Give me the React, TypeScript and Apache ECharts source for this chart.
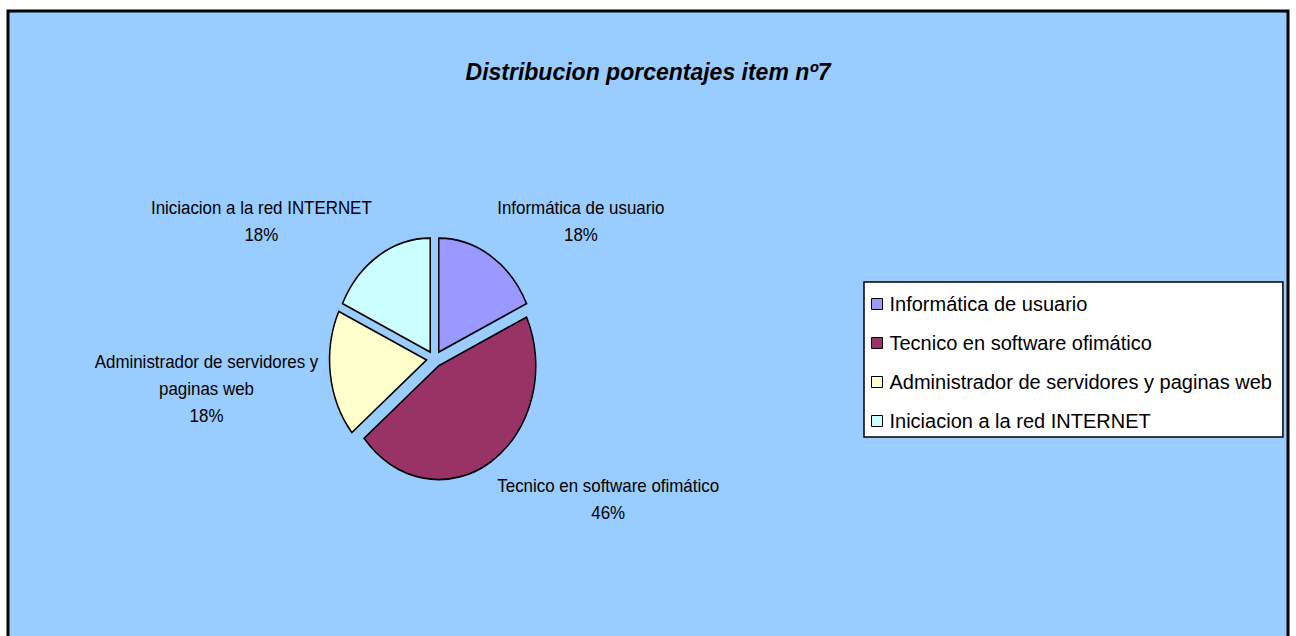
import React, { useEffect, useRef } from "react";
import * as echarts from "echarts";

const titleText = "Distribucion porcentajes item nº7";
const categories = [
  "Informática de usuario",
  "Tecnico en software ofimático",
  "Administrador de servidores y paginas web",
  "Iniciacion a la red INTERNET",
];
const labelNames = [
  "Informática de usuario",
  "Tecnico en software ofimático",
  "Administrador de servidores y\npaginas web",
  "Iniciacion a la red INTERNET",
];
const values = [18, 46, 18, 18];
const colors = ["#9999FF", "#993366", "#FFFFCC", "#CCFFFF"];

const FONT = "'Liberation Sans', Arial, sans-serif";
const CX = 434.5;
const CY = 359;
const RX = 97;
const RY = 114;
const EXPLODE = 8;
const GAP_X = 20;
const GAP_Y = 24;
const LABEL_SIZE = 18;
const LABEL_SCALE_X = 0.94;
const LABEL_LH = 27;

function measure(text: string, size: number): number {
  try {
    const c = document.createElement("canvas");
    const ctx = c.getContext("2d");
    if (ctx) {
      ctx.font = `${size}px ${FONT}`;
      return ctx.measureText(text).width;
    }
  } catch (e) {
    /* ignore */
  }
  return text.length * size * 0.5;
}

export default function App() {
  const ref = useRef<HTMLDivElement>(null);

  useEffect(() => {
    if (!ref.current) return;
    const chart = echarts.init(ref.current, undefined, { renderer: "svg" });
    const total = values.reduce((s, v) => s + v, 0);

    const makeRenderItem = (i: number) => (params: any, api: any) => {
      const before = values.slice(0, i).reduce((s, v) => s + v, 0);
      const a0 = -Math.PI / 2 + (before / total) * 2 * Math.PI;
      const a1 = -Math.PI / 2 + ((before + values[i]) / total) * 2 * Math.PI;
      const mid = (a0 + a1) / 2;
      const cos = Math.cos(mid);
      const sin = Math.sin(mid);
      const cx = CX + EXPLODE * cos;
      const cy = CY + EXPLODE * sin;
      const pct = Math.round((values[i] / total) * 100) + "%";
      const text = labelNames[i] + "\n" + pct;
      const lines = text.split("\n");
      const w = Math.max(...lines.map((l) => measure(l, LABEL_SIZE))) * LABEL_SCALE_X;
      const h = lines.length * LABEL_LH;
      const px = CX + (RX + GAP_X) * cos;
      const py = CY + (RY + GAP_Y) * sin;
      const tx = px + (cos >= 0 ? 1 : -1) * (w / 2);
      const ty = py + sin * (h / 2) + 8 * (1 - Math.abs(sin));
      return {
        type: "group",
        children: [
          {
            type: "sector",
            shape: { cx, cy, r0: 0, r: RX, startAngle: a0, endAngle: a1, clockwise: true },
            originX: cx,
            originY: cy,
            scaleY: RY / RX,
            style: { fill: colors[i], stroke: "#000", lineWidth: 1.5, strokeNoScale: true },
          },
          {
            type: "text",
            x: tx,
            y: ty,
            originX: 0,
            originY: 0,
            scaleX: LABEL_SCALE_X,
            style: {
              text,
              fill: "#000",
              fontSize: LABEL_SIZE,
              fontFamily: FONT,
              align: "center",
              verticalAlign: "middle",
              lineHeight: LABEL_LH,
            },
          },
        ],
      };
    };

    chart.setOption({
      animation: false,
      backgroundColor: "#ffffff",
      graphic: [
        {
          type: "rect",
          z: -10,
          silent: true,
          shape: { x: 8, y: 11, width: 1280, height: 700 },
          style: { fill: "#99CCFF", stroke: "#000", lineWidth: 3 },
        },
      ],
      title: {
        text: titleText,
        left: "center",
        top: 55,
        textStyle: {
          fontFamily: FONT,
          fontSize: 23,
          fontWeight: "bold",
          fontStyle: "italic",
          color: "#000",
        },
      },
      legend: {
        orient: "vertical",
        left: 864,
        top: 282,
        data: categories,
        icon: "rect",
        itemWidth: 11,
        itemHeight: 11,
        itemGap: 17,
        selectedMode: false,
        backgroundColor: "#ffffff",
        borderColor: "#000",
        borderWidth: 1.5,
        borderRadius: 0,
        padding: [11, 11, 5, 7],
        itemStyle: { borderColor: "#000", borderWidth: 1 },
        textStyle: { fontFamily: FONT, fontSize: 20, color: "#000", lineHeight: 22, padding: [0, 0, 0, 2] },
      },
      series: categories.map((name, i) => ({
        type: "custom",
        name,
        coordinateSystem: "none",
        silent: true,
        itemStyle: { color: colors[i], borderColor: "#000", borderWidth: 1 },
        data: [values[i]],
        renderItem: makeRenderItem(i),
      })),
    });

    return () => chart.dispose();
  }, []);

  return (
    <div
      ref={ref}
      style={{ position: "fixed", left: 0, top: 0, width: 1296, height: 636 }}
    />
  );
}
